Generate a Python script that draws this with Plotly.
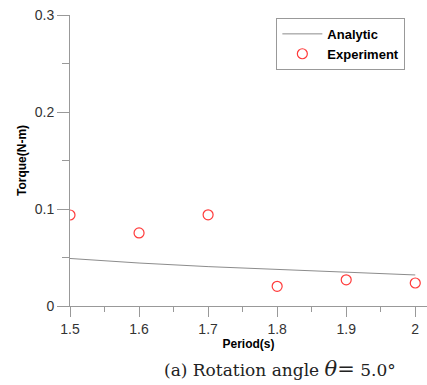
import plotly.graph_objects as go

period = [1.5, 1.6, 1.7, 1.8, 1.9, 2.0]
analytic = [0.049, 0.0443, 0.0406, 0.0375, 0.0347, 0.032]
experiment = [0.0938, 0.0753, 0.094, 0.0203, 0.027, 0.0237]
x_ticks = [1.5, 1.6, 1.7, 1.8, 1.9, 2.0]
x_ticklabels = ["1.5", "1.6", "1.7", "1.8", "1.9", "2"]
y_ticks = [0, 0.1, 0.2, 0.3]
y_ticklabels = ["0", "0.1", "0.2", "0.3"]

fig = go.Figure()
fig.add_trace(go.Scatter(x=period, y=analytic, mode="lines", name="<b>Analytic</b>",
                         line=dict(color="#8c8c8c", width=1)))
fig.add_trace(go.Scatter(x=period, y=experiment, mode="markers", name="<b>Experiment</b>",
                         marker=dict(symbol="circle-open", size=10, color="#ff3b3b",
                                     line=dict(width=1.2, color="#ff3b3b"))))

fig.update_layout(
    width=427, height=385,
    margin=dict(l=70, r=0, t=15, b=79),
    plot_bgcolor="white", paper_bgcolor="white",
    font=dict(family="Liberation Sans, Arial, sans-serif", color="#222"),
    legend=dict(x=0.578, y=0.99, xanchor="left", yanchor="top",
                bordercolor="#999", borderwidth=1, bgcolor="white",
                font=dict(size=13, color="black", family="Liberation Sans, Arial"),
                tracegroupgap=0, itemwidth=40),
    showlegend=True,
)
fig.update_xaxes(range=[1.5, 2.017], showgrid=False, zeroline=False,
                 showline=True, linecolor="#999", linewidth=1,
                 ticks="outside", tickcolor="#999", ticklen=10,
                 tickvals=x_ticks, ticktext=x_ticklabels,
                 tickfont=dict(size=14, color="#333"),
                 minor=dict(ticks="outside", dtick=0.05, ticklen=5, tickcolor="#999"),
                 title=dict(text="<b>Period(s)</b>", font=dict(size=12, color="black"), standoff=3))
fig.update_yaxes(range=[0, 0.3], showgrid=False, zeroline=False,
                 showline=True, linecolor="#999", linewidth=1,
                 ticks="outside", tickcolor="#999", ticklen=12,
                 tickvals=y_ticks, ticktext=y_ticklabels,
                 tickfont=dict(size=14, color="#333"),
                 minor=dict(ticks="outside", dtick=0.05, ticklen=7, tickcolor="#999"),
                 title=dict(text="<b>Torque(N-m)</b>", font=dict(size=12, color="black"), standoff=5))

fig.add_annotation(xref="paper", yref="paper", x=0.588, y=-0.17, yanchor="top",
                   xanchor="center", showarrow=False,
                   text="(a) Rotation angle <span style='font-size:21px'><i>θ</i>=</span> 5.0°",
                   font=dict(family="DejaVu Serif, Liberation Serif, serif", size=17, color="#222"))

fig.write_html("out.html")
